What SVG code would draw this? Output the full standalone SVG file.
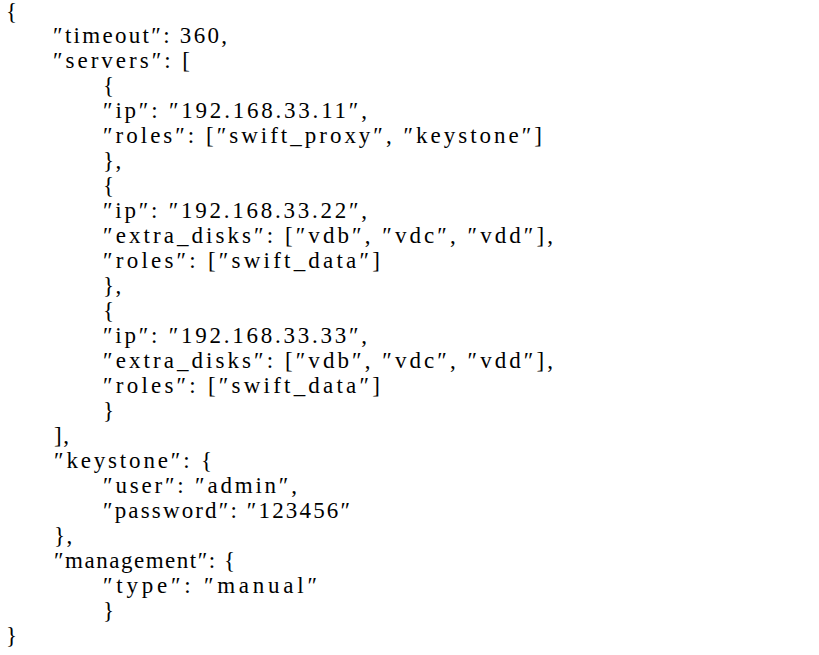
<svg xmlns="http://www.w3.org/2000/svg" width="819" height="655" viewBox="0 0 819 655">
<style>
text { font-family: "Liberation Serif", "DejaVu Serif", serif; font-size: 23px; fill: #000; }
.p { letter-spacing: 1.5px; }
</style>
<rect width="819" height="655" fill="#fff"/>
<g id="json">
<text x="6" y="19">{</text>
<text x="53" y="43" textLength="174" lengthAdjust="spacing">″timeout″: 360,</text>
<text x="53" y="68" textLength="137" lengthAdjust="spacing">″servers″: [</text>
<text x="103" y="93">{</text>
<text x="103" y="118" textLength="264" lengthAdjust="spacing">″ip″: ″192.168.33.11″,</text>
<text x="103" y="143" textLength="439" lengthAdjust="spacing">″roles″: [″swift_proxy″, ″keystone″]</text>
<text x="103" y="168" class="p">},</text>
<text x="103" y="193">{</text>
<text x="103" y="218" textLength="264" lengthAdjust="spacing">″ip″: ″192.168.33.22″,</text>
<text x="103" y="243" textLength="450" lengthAdjust="spacing">″extra_disks″: [″vdb″, ″vdc″, ″vdd″],</text>
<text x="103" y="268" textLength="277" lengthAdjust="spacing">″roles″: [″swift_data″]</text>
<text x="103" y="293" class="p">},</text>
<text x="103" y="318">{</text>
<text x="103" y="343" textLength="264" lengthAdjust="spacing">″ip″: ″192.168.33.33″,</text>
<text x="103" y="368" textLength="450" lengthAdjust="spacing">″extra_disks″: [″vdb″, ″vdc″, ″vdd″],</text>
<text x="103" y="393" textLength="277" lengthAdjust="spacing">″roles″: [″swift_data″]</text>
<text x="103" y="418">}</text>
<text x="54" y="443" class="p">],</text>
<text x="54" y="468" textLength="158" lengthAdjust="spacing">″keystone″: {</text>
<text x="103" y="493" textLength="194" lengthAdjust="spacing">″user″: ″admin″,</text>
<text x="103" y="518" textLength="247" lengthAdjust="spacing">″password″: ″123456″</text>
<text x="54" y="543" class="p">},</text>
<text x="54" y="568" textLength="181" lengthAdjust="spacing">″management″: {</text>
<text x="103" y="593" textLength="214" lengthAdjust="spacing">″type″: ″manual″</text>
<text x="103" y="618">}</text>
<text x="6" y="643">}</text>
</g>
</svg>
